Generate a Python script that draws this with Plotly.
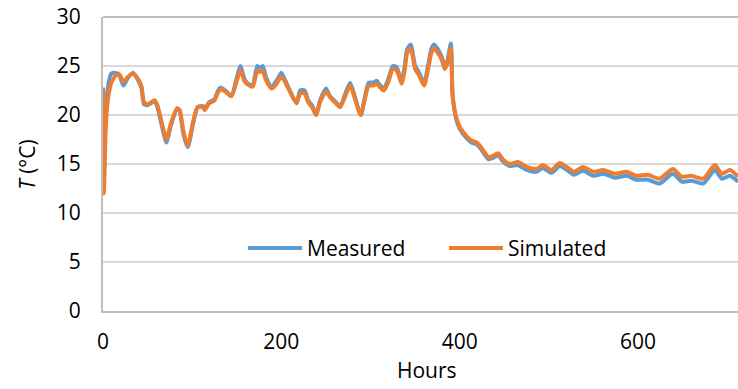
import plotly.graph_objects as go

# Hourly temperature record: measured vs simulated (°C)
hours = [0, 1, 3, 5, 9, 13, 18, 23, 28, 34, 39, 43, 46, 50, 58, 61, 67, 71, 76, 83,
         86, 90, 95, 101, 106, 112, 114, 119, 125, 129, 132, 137, 144, 150, 154, 159,
         164, 168, 173, 176, 179, 183, 189, 193, 196, 200, 204, 209, 217, 221, 226,
         230, 235, 239, 243, 250, 254, 260, 266, 271, 277, 282, 289, 294, 298, 303,
         307, 310, 315, 320, 325, 329, 335, 338, 341, 345, 350, 354, 360, 365, 368,
         371, 375, 380, 383, 386, 390, 392, 396, 400, 408, 413, 419, 424, 432, 437,
         443, 449, 456, 465, 475, 486, 493, 503, 512, 520, 528, 538, 550, 561, 574,
         587, 598, 611, 624, 639, 649, 660, 673, 686, 694, 703, 712]

measured = [12.3, 14.0, 20.0, 22.5, 24.2, 24.3, 24.1, 23.0, 23.8, 24.3, 23.6, 22.8,
            21.1, 21.0, 21.4, 20.8, 18.5, 17.2, 18.9, 20.6, 20.4, 18.1, 16.7, 19.1,
            20.8, 20.9, 20.6, 21.3, 21.6, 22.5, 22.8, 22.5, 22.0, 23.8, 25.0, 23.6,
            23.1, 23.1, 25.0, 24.8, 25.0, 23.8, 22.8, 23.3, 23.7, 24.3, 23.6, 22.6,
            21.2, 22.5, 22.5, 21.5, 20.9, 20.0, 21.4, 22.7, 22.0, 21.4, 20.9, 22.0,
            23.3, 22.0, 20.0, 22.0, 23.3, 23.3, 23.5, 23.1, 22.7, 23.7, 25.0, 24.9,
            23.5, 24.8, 26.7, 27.2, 25.0, 24.4, 23.3, 25.3, 26.7, 27.2, 26.8, 25.9,
            25.0, 25.5, 27.3, 22.0, 19.6, 18.6, 17.6, 17.2, 17.0, 16.5, 15.5, 15.6,
            15.9, 15.2, 14.8, 14.9, 14.4, 14.2, 14.6, 14.1, 14.8, 14.4, 13.9, 14.3,
            13.8, 14.0, 13.6, 13.8, 13.4, 13.4, 13.0, 14.0, 13.2, 13.3, 13.0, 14.4,
            13.5, 13.8, 13.2]

simulated = [22.8, 12.0, 18.4, 21.2, 23.2, 23.9, 24.2, 23.4, 23.9, 24.2, 23.7, 23.0,
             21.3, 21.1, 21.5, 21.0, 18.8, 17.5, 19.1, 20.7, 20.5, 18.4, 16.9, 19.3,
             20.8, 20.8, 20.5, 21.2, 21.5, 22.3, 22.6, 22.4, 21.9, 23.5, 24.6, 23.4,
             23.0, 22.9, 24.5, 24.4, 24.5, 23.5, 22.7, 23.0, 23.4, 23.9, 23.4, 22.5,
             21.2, 22.2, 22.2, 21.3, 20.7, 20.0, 21.2, 22.4, 21.9, 21.3, 20.8, 21.8,
             23.0, 21.8, 20.0, 21.8, 23.0, 23.0, 23.2, 22.9, 22.5, 23.4, 24.7, 24.6,
             23.2, 24.4, 26.3, 26.8, 24.7, 24.1, 23.0, 24.9, 26.3, 26.8, 26.4, 25.6,
             24.7, 25.2, 26.8, 22.0, 19.8, 18.8, 17.8, 17.4, 17.2, 16.7, 15.7, 15.8,
             16.1, 15.4, 15.0, 15.2, 14.7, 14.5, 14.9, 14.4, 15.1, 14.7, 14.2, 14.7,
             14.2, 14.4, 14.0, 14.2, 13.8, 13.9, 13.5, 14.5, 13.7, 13.8, 13.5, 14.9,
             14.0, 14.4, 13.7]

x_ticks = [0, 200, 400, 600]
y_ticks = [0, 5, 10, 15, 20, 25, 30]

FONT = "Open Sans"
TEXT = "#000000"
AXIS = "#bfbfbf"
GRID = "#d9d9d9"

fig = go.Figure()
fig.add_trace(go.Scatter(
    x=hours, y=measured, name="Measured", mode="lines",
    line=dict(color="#5B9BD5", width=4, shape="spline", smoothing=0.6),
))
fig.add_trace(go.Scatter(
    x=hours, y=simulated, name="Simulated", mode="lines",
    line=dict(color="#ED7D31", width=4, shape="spline", smoothing=0.6),
))

fig.update_layout(
    width=738, height=389,
    margin=dict(l=103, r=0, t=17, b=78),
    paper_bgcolor="white", plot_bgcolor="white",
    font=dict(family=FONT, size=21, color=TEXT),
    showlegend=True,
    legend=dict(
        orientation="h", x=0.537, y=0.213, xanchor="center", yanchor="middle",
        bgcolor="rgba(0,0,0,0)", font=dict(family=FONT, size=21, color=TEXT),
        itemwidth=54, entrywidth=132,
    ),
    xaxis=dict(
        range=[0, 712], tickvals=x_ticks, ticktext=[str(v) for v in x_ticks],
        showgrid=False, zeroline=False,
        showline=True, linecolor=AXIS, linewidth=2,
        ticks="", ticklabelstandoff=11,
    ),
    yaxis=dict(
        range=[0, 30], tickvals=y_ticks, ticktext=[str(v) for v in y_ticks],
        showgrid=True, gridcolor=GRID, gridwidth=2, zeroline=False,
        showline=True, linecolor=AXIS, linewidth=2,
        ticks="", ticklabelstandoff=16,
    ),
    annotations=[
        dict(text="Hours", xref="paper", yref="paper", x=0.51, y=-0.2,
             xanchor="center", yanchor="middle", showarrow=False,
             font=dict(family=FONT, size=21, color=TEXT)),
        dict(text="<i>T</i> (°C)", xref="paper", yref="paper", x=-0.12, y=0.5,
             xanchor="center", yanchor="middle", textangle=-90, showarrow=False,
             font=dict(family=FONT, size=21, color=TEXT)),
    ],
    shapes=[
        dict(type="line", xref="paper", yref="paper", x0=0, x1=1, y0=1, y1=1,
             line=dict(color=AXIS, width=2)),
    ],
)

fig.write_html("out.html")
